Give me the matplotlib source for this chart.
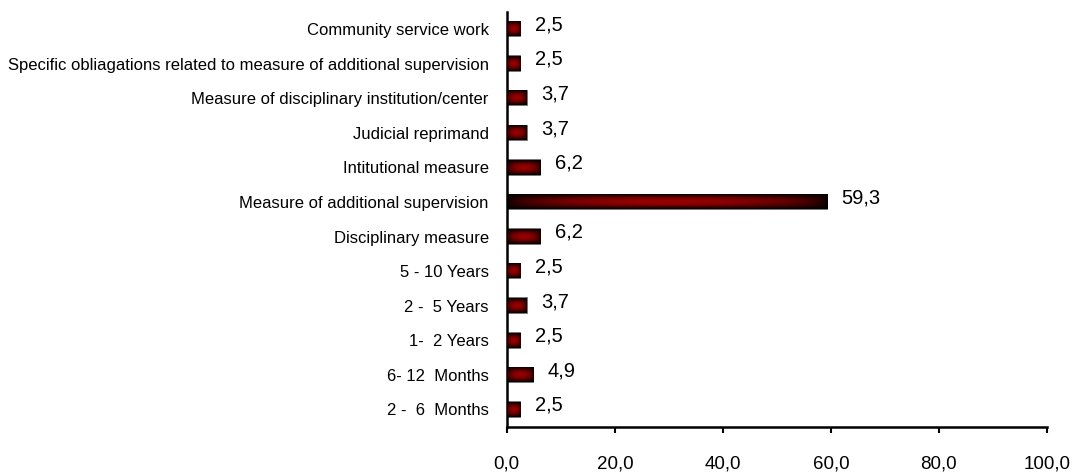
import numpy as np
import matplotlib.pyplot as plt

categories = [
    "Community service work",
    "Specific obliagations related to measure of additional supervision",
    "Measure of disciplinary institution/center",
    "Judicial reprimand",
    "Intitutional measure",
    "Measure of additional supervision",
    "Disciplinary measure",
    "5 - 10 Years",
    "2 -  5 Years",
    "1-  2 Years",
    "6- 12  Months",
    "2 -  6  Months",
]
values = [2.5, 2.5, 3.7, 3.7, 6.2, 59.3, 6.2, 2.5, 3.7, 2.5, 4.9, 2.5]
xticks = [0, 20, 40, 60, 80, 100]

plt.rcParams["font.family"] = ["Liberation Sans", "DejaVu Sans"]

fig = plt.figure(figsize=(10.76, 4.72), dpi=100)
ax = fig.add_axes([0.471, 0.096, 0.502, 0.879])

y = np.arange(len(categories))
bars = ax.barh(y, values, height=0.42, color="none", edgecolor="#6a6a6a",
               linewidth=1.3, zorder=2)

# shading of the bars: dark at the ends and the edges, red in the middle
gx = np.sin(np.linspace(0, np.pi, 200)) ** 0.5
gy = np.sin(np.linspace(0, np.pi, 40)) ** 0.9
shade = np.outer(gy, gx)
rgb = np.zeros(shade.shape + (3,))
rgb[..., 0] = 0.6 * shade

for b in bars:
    x0, y0 = b.get_x(), b.get_y()
    ax.imshow(rgb, extent=[x0, x0 + b.get_width(), y0 + b.get_height(), y0],
              aspect="auto", interpolation="bilinear", zorder=3)

for yi, v in zip(y, values):
    ax.annotate(f"{v:.1f}".replace(".", ","), (v, yi), xytext=(10.5, 3),
                textcoords="offset points", ha="left", va="center",
                fontsize=14.5)

ax.set_xlim(0, 100)
ax.set_ylim(len(categories) - 0.5, -0.5)
ax.set_xticks(xticks)
ax.set_xticklabels([f"{t:.1f}".replace(".", ",") for t in xticks], fontsize=13.5)
ax.set_yticks(y)
ax.set_yticklabels(categories, fontsize=12)
ax.tick_params(axis="x", direction="out", length=4, width=1.5, pad=17)
ax.tick_params(axis="y", length=0, pad=13)
for s in ["top", "right"]:
    ax.spines[s].set_visible(False)
for s in ["left", "bottom"]:
    ax.spines[s].set_linewidth(1.8)

fig.savefig("out.png", dpi=100)
